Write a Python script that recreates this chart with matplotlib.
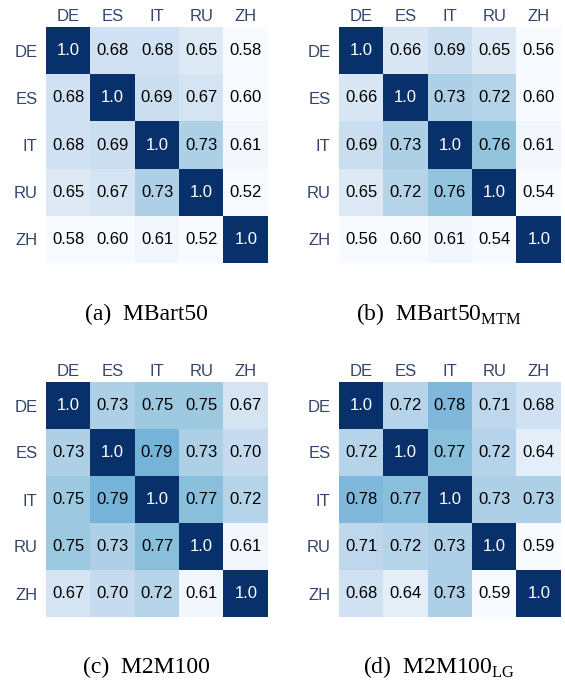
import matplotlib
matplotlib.use("Agg")
import matplotlib.pyplot as plt
import numpy as np

langs = ["DE", "ES", "IT", "RU", "ZH"]

mbart50 = [[1.0, 0.68, 0.68, 0.65, 0.58],
           [0.68, 1.0, 0.69, 0.67, 0.60],
           [0.68, 0.69, 1.0, 0.73, 0.61],
           [0.65, 0.67, 0.73, 1.0, 0.52],
           [0.58, 0.60, 0.61, 0.52, 1.0]]

mbart50_mtm = [[1.0, 0.66, 0.69, 0.65, 0.56],
               [0.66, 1.0, 0.73, 0.72, 0.60],
               [0.69, 0.73, 1.0, 0.76, 0.61],
               [0.65, 0.72, 0.76, 1.0, 0.54],
               [0.56, 0.60, 0.61, 0.54, 1.0]]

m2m100 = [[1.0, 0.73, 0.75, 0.75, 0.67],
          [0.73, 1.0, 0.79, 0.73, 0.70],
          [0.75, 0.79, 1.0, 0.77, 0.72],
          [0.75, 0.73, 0.77, 1.0, 0.61],
          [0.67, 0.70, 0.72, 0.61, 1.0]]

m2m100_lg = [[1.0, 0.72, 0.78, 0.71, 0.68],
             [0.72, 1.0, 0.77, 0.72, 0.64],
             [0.78, 0.77, 1.0, 0.73, 0.73],
             [0.71, 0.72, 0.73, 1.0, 0.59],
             [0.68, 0.64, 0.73, 0.59, 1.0]]

captions = ["(a)  MBart50", r"(b)  MBart50$_{\mathregular{MTM}}$",
            "(c)  M2M100", r"(d)  M2M100$_{\mathregular{LG}}$"]

W, H = 565, 680
fig = plt.figure(figsize=(W / 100, H / 100), dpi=100)

# (left, top, right, bottom) in pixels
boxes = [(46, 27, 268, 263), (339, 27, 561, 263),
         (46, 382, 268, 617), (339, 382, 561, 617)]
cap_base = [320, 320, 673, 673]
label_col = "#34446b"


def heat(ax, data):
    m = np.array(data)
    ax.imshow(m, cmap="Blues", vmin=0.6, vmax=1.0, aspect="auto")
    for i in range(m.shape[0]):
        for j in range(m.shape[1]):
            v = m[i, j]
            txt = "1.0" if v == 1.0 else f"{v:.2f}"
            col = "white" if v == 1.0 else "black"
            ax.text(j, i, txt, ha="center", va="center", color=col,
                    fontsize=12, family="Liberation Sans")
    ax.set_xticks(range(len(langs)))
    ax.set_yticks(range(len(langs)))
    ax.set_xticklabels(langs, family="Liberation Sans", fontsize=12, color=label_col)
    ax.set_yticklabels(langs, family="Liberation Sans", fontsize=12, color=label_col)
    ax.xaxis.tick_top()
    ax.tick_params(axis="x", length=0, pad=2)
    ax.tick_params(axis="y", length=0, pad=6)
    for s in ax.spines.values():
        s.set_visible(False)


for data, box, cap, cb in zip([mbart50, mbart50_mtm, m2m100, m2m100_lg], boxes, captions, cap_base):
    l, t, r, b = box
    ax = fig.add_axes([l / W, 1 - b / H, (r - l) / W, (b - t) / H])
    heat(ax, data)
    fig.text(((l + r) / 2 - 11) / W, 1 - cb / H, cap, ha="center", va="baseline",
             family="Liberation Serif", fontsize=17)

fig.savefig("out.png", dpi=100)
